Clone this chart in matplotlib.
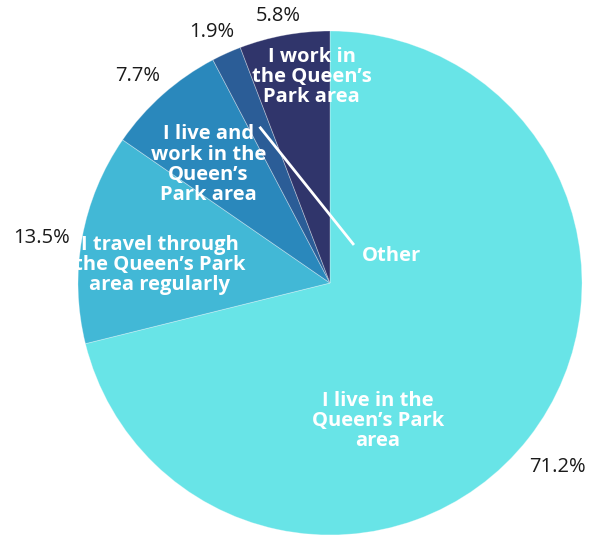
import matplotlib.pyplot as plt
import numpy as np

plt.rcParams['font.family'] = ['Open Sans', 'DejaVu Sans']

# data
labels = ["I live in the\nQueen\u2019s Park\narea",
          "I travel through\nthe Queen\u2019s Park\narea regularly",
          "I live and\nwork in the\nQueen\u2019s\nPark area",
          "",
          "I work in\nthe Queen\u2019s\nPark area"]
values = [71.2, 13.5, 7.7, 1.9, 5.8]
colors = ['#68E4E7', '#42B8D6', '#2A88BC', '#2B5D97', '#30356B']

# where the inside labels sit (radius, angle offset in degrees from wedge middle)
label_r = [0.58, 0.679, 0.673, 0.0, 0.82]
label_da = [-32.8, 4.3, 4.3, 0, -5.3]
pct_r = [1.16, 1.16, 1.12, 1.10, 1.08]
pct_da = [-1, 1.5, 1.4, 1, 0.6]

fig = plt.figure(figsize=(5.97, 5.36), dpi=100)
cx, cy, R = 330, 283, 252
ax = fig.add_axes([(cx - R) / 597, (536 - cy - R) / 536, 2 * R / 597, 2 * R / 536])

wedges, _ = ax.pie(values, colors=colors, startangle=90, counterclock=False,
                   wedgeprops=dict(edgecolor=(1, 1, 1, 0.35), linewidth=0.6))

for i, w in enumerate(wedges):
    mid = np.deg2rad((w.theta1 + w.theta2) / 2)
    # inside label
    if labels[i]:
        a = mid + np.deg2rad(label_da[i])
        ax.text(label_r[i] * np.cos(a), label_r[i] * np.sin(a), labels[i],
                ha='center', va='center', color='white', fontsize=14.5,
                fontweight='bold', linespacing=1.02)
    # percentage outside
    a = mid + np.deg2rad(pct_da[i])
    ax.text(pct_r[i] * np.cos(a), pct_r[i] * np.sin(a), f"{values[i]:.1f}%",
            ha='center', va='center', color='#1a1a1a', fontsize=14.5)

# "Other" callout for the small slice
w = wedges[3]
mid = np.deg2rad((w.theta1 + w.theta2) / 2)
ax.plot([0.68 * np.cos(mid), 0.095], [0.68 * np.sin(mid), 0.151],
        color='white', linewidth=2, solid_capstyle='butt')
ax.text(0.246, 0.107, "Other", ha='center', va='center', color='white',
        fontsize=14.5, fontweight='bold')

ax.set_xlim(-1, 1)
ax.set_ylim(-1, 1)
ax.axis('off')

fig.savefig('out.png', dpi=100)
